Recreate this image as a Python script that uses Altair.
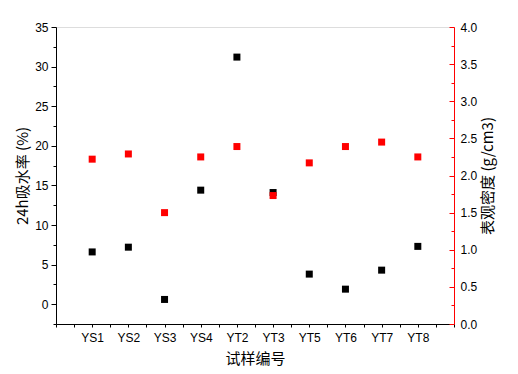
import altair as alt
import pandas as pd

categories = ["YS1", "YS2", "YS3", "YS4", "YT2", "YT3", "YT5", "YT6", "YT7", "YT8"]
water_absorption = [6.6, 7.2, 0.6, 14.4, 31.2, 14.1, 3.8, 1.9, 4.3, 7.3]
density = [2.22, 2.29, 1.50, 2.25, 2.39, 1.73, 2.17, 2.39, 2.45, 2.25]

df = pd.DataFrame({
    "idx": list(range(1, len(categories) + 1)),
    "cat": categories,
    "water": water_absorption,
    "density": density,
})

FONT = "Arial, 'Liberation Sans', 'Noto Sans CJK SC'"
CJK = "'Noto Sans CJK SC', Arial"

names_js = "[" + ",".join("'" + c + "'" for c in categories) + "]"
x_label_expr = f"(datum.value % 1 == 0 && datum.value >= 1 && datum.value <= {len(categories)}) ? {names_js}[datum.value - 1] : ''"

x_vals = [i * 0.5 for i in range(0, 23)]
left_vals = [-2.5 + i * 2.5 for i in range(0, 16)]
right_vals = [i * 0.25 for i in range(0, 17)]

x_enc = alt.X(
    "idx:Q",
    scale=alt.Scale(domain=[0, 11], nice=False, zero=False),
    axis=alt.Axis(
        title="试样编号", values=x_vals, labelExpr=x_label_expr,
        grid=False, tickSize=3, tickColor="black", domainColor="black",
        labelFont=FONT, labelFontSize=12, labelColor="black", labelPadding=5,
        titleFont=CJK, titleFontSize=15, titleFontWeight="normal", titleColor="black",
        titlePadding=8, labelFlush=False, labelOverlap=False,
    ),
)

black = alt.Chart(df).mark_square(size=49, color="black", opacity=1).encode(
    x=x_enc,
    y=alt.Y(
        "water:Q",
        scale=alt.Scale(domain=[-2.5, 35], nice=False, zero=False),
        axis=alt.Axis(
            title="24h吸水率 (%)", orient="left", values=left_vals,
            labelExpr="datum.value % 5 == 0 ? datum.label : ''",
            tickSize={"condition": {"test": "datum.value % 5 == 0", "value": 5}, "value": 3},
            grid=False, tickColor="black", domainColor="black",
            labelFont=FONT, labelFontSize=12, labelColor="black", labelPadding=3,
            titleFont=CJK, titleFontSize=15, titleFontWeight="normal", titleColor="black",
            titlePadding=4, labelOverlap=False, labelFlush=False,
        ),
    ),
)

red = alt.Chart(df).mark_square(size=49, color="red", opacity=1).encode(
    x=x_enc,
    y=alt.Y(
        "density:Q",
        scale=alt.Scale(domain=[0, 4], nice=False, zero=False),
        axis=alt.Axis(
            title="表观密度 (g/cm3)", orient="right", values=right_vals,
            labelExpr="datum.value % 0.5 == 0 ? format(datum.value, '.1f') : ''",
            tickSize=0, grid=False, domainColor="red",
            labelFont=FONT, labelFontSize=12, labelColor="black", labelPadding=6,
            titleFont=CJK, titleFontSize=15, titleFontWeight="normal", titleColor="black",
            titleAngle=270, titleBaseline="top",
            titlePadding=4, labelOverlap=False, labelFlush=False,
        ),
    ),
)

red_ticks = alt.Chart(df).mark_square(size=1, opacity=0).encode(
    x=x_enc,
    y=alt.Y(
        "density:Q",
        scale=alt.Scale(domain=[0, 4], nice=False, zero=False),
        axis=alt.Axis(
            title=None, orient="left", offset=-398, values=right_vals,
            labels=False, domain=False, grid=False, tickColor="red",
            tickSize={"condition": {"test": "datum.value % 0.5 == 0", "value": 5}, "value": 3},
        ),
    ),
)

chart = (
    alt.layer(black, red_ticks, red)
    .resolve_scale(y="independent")
    .properties(
        width=398, height=297,
        autosize=alt.AutoSizeParams(type="none"),
        padding={"left": 48, "top": 19, "right": 56, "bottom": 48},
    )
    .configure_view(stroke="black", strokeWidth=1)
    .configure(background="white")
)

chart.save("out.html", embed_options={"renderer": "svg", "actions": False})
